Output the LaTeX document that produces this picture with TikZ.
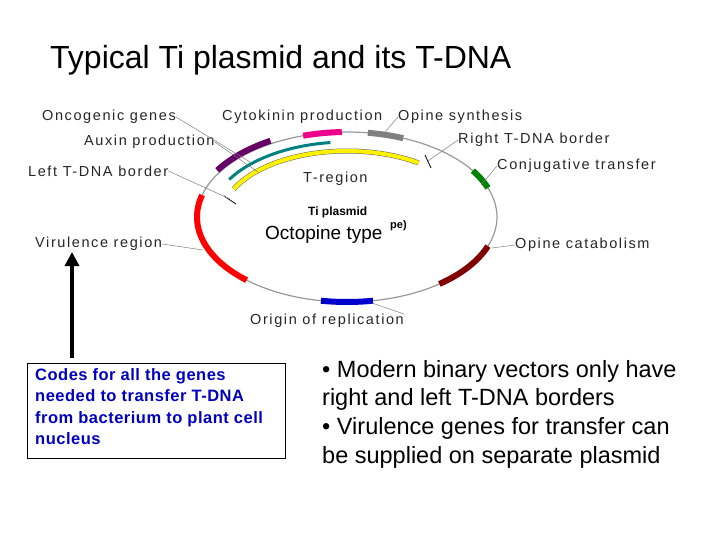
\documentclass[tikz,border=0pt]{standalone}
\usepackage{fontspec}
\usetikzlibrary{arrows.meta}
\setmainfont{Liberation Sans}
\newfontfamily\lblfont[LetterSpace=11]{Liberation Sans}
\newfontfamily\boxfont[LetterSpace=3]{Liberation Sans}
\begin{document}
\begin{tikzpicture}[x=1pt,y=-1pt,
  lbl/.style={anchor=west,inner sep=0pt,font=\lblfont\fontsize{14.5}{15}\selectfont,text=black!85},
  lead/.style={draw=gray,line width=0.5pt},
  seg/.style={line width=6pt},
  big/.style={anchor=west,inner sep=0pt,font=\fontsize{23.5}{28}\selectfont,align=left}]
\useasboundingbox (0,0) rectangle (720,540);
\fill[white] (0,0) rectangle (720,540);
\node[anchor=west,inner sep=0pt,font=\fontsize{32}{36}\selectfont] (title) at (50,60) {Typical Ti plasmid and its T-DNA};
% plasmid backbone
\draw[gray!80,line width=1.2pt,domain=0:360,samples=120] plot ({347+150*cos(\x)},{217-85*sin(\x)});
% segments
\draw[seg,red,domain=165:228,samples=30] plot ({347+150*cos(\x)},{217-85*sin(\x)});
\draw[seg,blue!80!black,domain=260:280,samples=20] plot ({347+150*cos(\x)},{217-85*sin(\x)});
\draw[seg,red!50!black,domain=308:340,samples=20] plot ({347+150*cos(\x)},{217-85*sin(\x)});
\draw[seg,green!50!black,domain=20:33,samples=10] plot ({347+150*cos(\x)},{217-85*sin(\x)});
\draw[seg,gray,domain=68:82,samples=10] plot ({347+150*cos(\x)},{217-85*sin(\x)});
\draw[seg,magenta,domain=92:107,samples=10] plot ({347+150*cos(\x)},{217-85*sin(\x)});
\draw[seg,violet!80!black,domain=120:148,samples=20] plot ({347+153*cos(\x)},{217-88*sin(\x)});
\draw[line width=3pt,teal,domain=97:150,samples=30] plot ({347+136*cos(\x)},{217-75*sin(\x)});
\draw[line width=5pt,black!60,domain=55:155,samples=40] plot ({347+125*cos(\x)},{217-66*sin(\x)});
\draw[line width=4pt,yellow,domain=55:155,samples=40] plot ({347+125*cos(\x)},{217-66*sin(\x)});
% border ticks
\coordinate (lb) at (230,199);
\coordinate (rb) at (428,161);
\draw[line width=0.8pt] (224,196) -- (236,204);
\draw[line width=0.8pt] (425,155) -- (431,168);
% labels
\node[lbl] (onc) at (42,117) {Oncogenic genes};
\node[lbl] (cyt) at (222,117) {Cytokinin production};
\node[lbl] (ops) at (398,117) {Opine synthesis};
\node[lbl] (aux) at (84,142) {Auxin production};
\node[lbl] (rtb) at (458,140) {Right T-DNA border};
\node[lbl] (ltb) at (28,171) {Left T-DNA border};
\node[lbl] (treg) at (303,179) {T-region};
\node[lbl] (conj) at (497,166) {Conjugative transfer};
\node[lbl] (vir) at (35,244) {Virulence region};
\node[lbl] (cat) at (515,245) {Opine catabolism};
\node[lbl] (ori) at (250,321) {Origin of replication};
\node[anchor=west,inner sep=0pt,font=\bfseries\fontsize{12}{13}\selectfont] (ti) at (308,212) {Ti plasmid};
\node[anchor=west,inner sep=0pt,font=\fontsize{19}{20}\selectfont] (oct) at (265,235) {Octopine type};
\node[anchor=west,inner sep=0pt,font=\bfseries\fontsize{11}{12}\selectfont] (pe) at (390,226) {pe)};
% leaders
\coordinate (pur) at (250,162);
\coordinate (gry) at (385,132);
\coordinate (tea) at (258,172);
\coordinate (grn) at (481,185);
\coordinate (red) at (203,250);
\coordinate (mar) at (492,248);
\coordinate (blu) at (372,303);
\draw[lead] (onc.east) -- (pur);
\draw[lead] (ops.west) -- (gry);
\draw[lead] (aux.east) -- (tea);
\draw[lead] (rtb.west) -- (rb);
\draw[lead] (ltb.east) -- (lb);
\draw[lead] (conj.west) -- (grn);
\draw[lead] (vir.east) -- (red);
\draw[lead] (cat.west) -- (mar);
\draw[lead] (blu) -- (ori.north east);
% box and arrow
\node[draw=black,line width=1pt,anchor=north west,minimum width=258pt,minimum height=95pt,inner sep=0pt] (box) at (27,363) {};
\node[anchor=north west,inner sep=0pt,align=left,text=blue!75!black,font=\boxfont\bfseries\fontsize{16.5}{21.5}\selectfont] (boxt) at (35,368) {Codes for all the genes\\needed to transfer T-DNA\\from bacterium to plant cell\\nucleus};
\coordinate (arrtop) at (72,252);
\draw[line width=4pt,-{Triangle[length=14pt,width=14pt]}] (72,358) -- (arrtop);
% right text
\node[big] (t1) at (322,371) {• Modern binary vectors only have};
\node[big] (t2) at (322,399) {right and left T-DNA borders};
\node[big] (t3) at (322,428) {• Virulence genes for transfer can};
\node[big] (t4) at (322,457) {be supplied on separate plasmid};
\end{tikzpicture}
\end{document}
